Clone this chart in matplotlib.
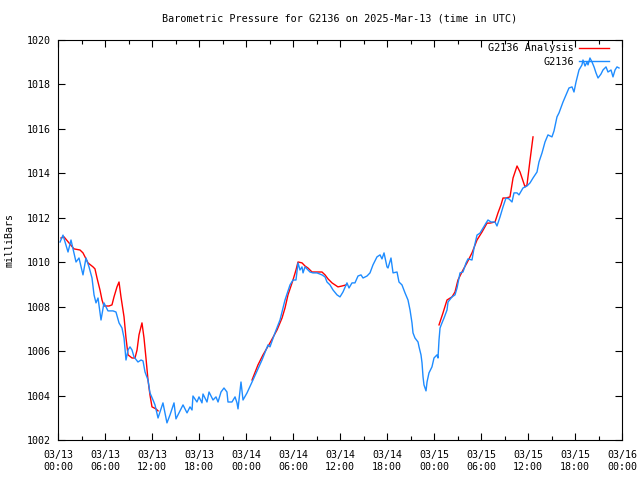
import numpy as np
import matplotlib
matplotlib.use("Agg")
import matplotlib.pyplot as plt

# hours after 2025-03-13 00:00 UTC, pressure in mb
obs_hours = [0.26, 0.64, 1.28, 1.66, 2.30, 2.68, 3.19, 3.57, 3.96, 4.34, 4.60, 4.85, 5.11, 5.49, 5.87,
             6.38, 7.02, 7.40, 7.79, 8.17, 8.43, 8.68, 8.94, 9.19, 9.45, 9.70, 10.21, 10.60, 10.85, 11.11,
             11.49, 11.74, 12.13, 12.38, 12.77, 13.40, 13.91, 14.30, 14.81, 15.06, 15.96, 16.47, 16.85,
             17.11, 17.23, 17.74, 18.00, 18.38, 18.51, 19.02, 19.28, 19.79, 20.17, 20.43, 20.81, 21.19,
             21.57, 21.70, 22.21, 22.60, 22.85, 22.98, 23.36, 23.62, 24.13, 24.89, 26.04, 26.81, 27.06,
             27.70, 28.34, 28.98, 29.62, 30.00, 30.38, 30.64, 30.89, 31.15, 31.28, 31.53, 31.91, 32.17,
             32.55, 33.06, 33.70, 34.09, 34.34, 34.72, 35.11, 35.62, 36.00, 36.38, 36.89, 37.15, 37.53,
             37.91, 38.30, 38.68, 38.94, 39.45, 39.83, 40.21, 40.72, 41.11, 41.36, 41.62, 42.00, 42.13,
             42.51, 42.77, 43.28, 43.53, 43.91, 44.30, 44.68, 44.94, 45.19, 45.32, 45.57, 45.96, 46.09,
             46.34, 46.47, 46.60, 46.72, 46.98, 47.11, 47.36, 47.74, 48.00, 48.38, 48.51, 48.64, 48.77,
             49.02, 49.28, 49.66, 49.79, 50.30, 50.68, 50.94, 51.32, 51.70, 52.09, 52.34, 52.85, 53.11,
             53.49, 53.87, 54.26, 54.64, 54.89, 55.28, 55.79, 56.04, 56.43, 56.81, 57.19, 57.57, 57.96,
             58.21, 58.60, 58.85, 59.36, 59.87, 60.26, 60.64, 61.15, 61.40, 61.79, 62.17, 62.55, 63.06,
             63.32, 63.70, 63.96, 64.47, 64.85, 65.23, 65.62, 65.87, 66.13, 66.26, 66.51, 66.89, 67.02,
             67.28, 67.53, 67.66, 67.91, 68.17, 68.43, 68.68, 68.94, 69.32, 69.57, 69.96, 70.21, 70.60,
             70.85, 71.11, 71.36, 71.62]
obs_mb = [1010.91, 1011.22, 1010.46, 1011.00, 1010.01, 1010.19, 1009.43, 1010.19, 1009.79, 1009.29,
          1008.53, 1008.17, 1008.39, 1007.40, 1008.17, 1007.81, 1007.81, 1007.76, 1007.27, 1007.04,
          1006.59, 1005.60, 1006.05, 1006.19, 1006.05, 1005.74, 1005.51, 1005.60, 1005.56, 1005.06,
          1004.70, 1004.12, 1003.80, 1003.58, 1002.99, 1003.67, 1002.77, 1003.13, 1003.67, 1002.95,
          1003.58, 1003.22, 1003.49, 1003.35, 1003.98, 1003.71, 1003.94, 1003.67, 1004.07, 1003.71,
          1004.16, 1003.80, 1003.94, 1003.71, 1004.16, 1004.34, 1004.16, 1003.71, 1003.71, 1003.94,
          1003.67, 1003.40, 1004.61, 1003.80, 1004.12, 1004.70, 1005.60, 1006.28, 1006.19, 1006.82,
          1007.40, 1008.30, 1008.98, 1009.20, 1009.20, 1009.97, 1009.65, 1009.79, 1009.52, 1009.79,
          1009.65, 1009.56, 1009.52, 1009.52, 1009.43, 1009.34, 1009.11, 1008.98, 1008.75, 1008.53,
          1008.44, 1008.66, 1009.07, 1008.84, 1009.07, 1009.07, 1009.38, 1009.43, 1009.29, 1009.38,
          1009.52, 1009.88, 1010.24, 1010.33, 1010.15, 1010.42, 1009.79, 1009.74, 1010.19, 1009.52,
          1009.56, 1009.11, 1008.98, 1008.62, 1008.30, 1007.85, 1007.27, 1006.82, 1006.59, 1006.41,
          1006.19, 1005.83, 1005.47, 1004.84, 1004.48, 1004.21, 1004.61, 1005.02, 1005.29, 1005.69,
          1005.83, 1005.69, 1006.50, 1007.04, 1007.27, 1007.49, 1007.85, 1008.21, 1008.44, 1008.53,
          1008.84, 1009.52, 1009.56, 1009.97, 1010.15, 1010.10, 1010.64, 1011.22, 1011.31, 1011.54,
          1011.76, 1011.90, 1011.81, 1011.81, 1011.63, 1012.04, 1012.49, 1012.89, 1012.85, 1012.71,
          1013.12, 1013.12, 1013.03, 1013.34, 1013.43, 1013.57, 1013.79, 1014.06, 1014.51, 1014.92,
          1015.41, 1015.73, 1015.64, 1015.91, 1016.54, 1016.72, 1017.21, 1017.53, 1017.84, 1017.89,
          1017.66, 1018.11, 1018.29, 1018.65, 1018.88, 1019.10, 1018.83, 1019.01, 1018.88, 1019.19,
          1019.01, 1018.79, 1018.52, 1018.29, 1018.47, 1018.65, 1018.79, 1018.56, 1018.65, 1018.34,
          1018.65, 1018.79, 1018.74]

# analysis, nan = no analysis
ana_hours = [0.38, 0.77, 1.40, 2.04, 2.81, 3.19, 3.45, 3.83, 4.47, 4.72, 4.98, 5.36, 5.62, 5.87, 6.51,
             6.89, 7.15, 7.53, 7.79, 8.04, 8.43, 8.68, 8.94, 9.45, 9.83, 10.09, 10.34, 10.72, 10.98,
             11.23, 11.49, 11.74, 12.00, 12.51, 12.77, 18.0,
             24.77, 25.53, 26.17, 27.06, 27.96, 28.60, 28.98, 29.36, 30.00, 30.38, 30.64, 31.15, 31.53,
             31.91, 32.43, 33.19, 33.70, 34.09, 34.47, 34.98, 35.36, 35.74, 36.26, 36.77, 42.0,
             48.64, 49.15, 49.66, 50.30, 50.68, 51.06, 51.70, 52.21, 52.85, 53.49, 54.13, 54.77, 55.15,
             55.79, 56.17, 56.55, 56.81, 57.19, 57.70, 58.09, 58.60, 58.98, 59.62, 59.87, 60.26, 60.64]
ana_mb = [1011.09, 1011.14, 1010.87, 1010.60, 1010.55, 1010.42, 1010.24, 1009.97, 1009.79, 1009.70,
          1009.29, 1008.75, 1008.30, 1008.03, 1008.03, 1008.08, 1008.44, 1008.89, 1009.11, 1008.44,
          1007.54, 1006.59, 1005.83, 1005.69, 1005.69, 1006.05, 1006.73, 1007.27, 1006.59, 1005.69,
          1004.70, 1004.03, 1003.49, 1003.40, 1003.31, np.nan,
          1004.70, 1005.38, 1005.83, 1006.37, 1006.95, 1007.49, 1007.94, 1008.53, 1009.20, 1009.65,
          1010.01, 1009.97, 1009.83, 1009.74, 1009.56, 1009.56, 1009.56, 1009.43, 1009.25, 1009.07,
          1008.98, 1008.89, 1008.93, 1008.98, np.nan,
          1007.18, 1007.72, 1008.30, 1008.44, 1008.66, 1009.20, 1009.65, 1009.97, 1010.42, 1011.00,
          1011.36, 1011.76, 1011.76, 1011.81, 1012.22, 1012.58, 1012.89, 1012.89, 1012.94, 1013.79,
          1014.33, 1014.06, 1013.39, 1013.48, 1014.60, 1015.64]

tick_hours = list(range(0, 73, 6))
tick_labels = ["03/13\n00:00", "03/13\n06:00", "03/13\n12:00", "03/13\n18:00",
               "03/14\n00:00", "03/14\n06:00", "03/14\n12:00", "03/14\n18:00",
               "03/15\n00:00", "03/15\n06:00", "03/15\n12:00", "03/15\n18:00",
               "03/16\n00:00"]

plt.rcParams['font.family'] = ['DejaVu Sans Mono']
plt.rcParams['font.size'] = 7.2

fig = plt.figure(figsize=(6.4, 4.8), dpi=100)
ax = fig.add_axes([58 / 640, 40 / 480, 564 / 640, 400 / 480])

ax.plot(ana_hours, ana_mb, color="#ff0000", lw=1.0, label="G2136 Analysis")
ax.plot(obs_hours, obs_mb, color="#1e8cff", lw=1.0, label="G2136")

ax.set_xlim(0, 72)
ax.set_ylim(1002, 1020)
ax.set_xticks(tick_hours)
ax.set_xticklabels(tick_labels, linespacing=1.25)
ax.set_xticks(range(3, 72, 6), minor=True)
ax.set_yticks(range(1002, 1021, 2))
ax.tick_params(which="both", direction="in", top=True, right=True, width=0.8)
ax.tick_params(which="major", length=5)
ax.tick_params(axis="x", which="major", pad=7)
ax.tick_params(axis="y", which="major", pad=5)
ax.tick_params(which="minor", length=3)
for s in ax.spines.values():
    s.set_linewidth(0.8)

ax.set_title("Barometric Pressure for G2136 on 2025-Mar-13 (time in UTC)", fontsize=7.3, pad=13)
ax.set_ylabel("milliBars", labelpad=9)

ax.legend(loc="upper right", bbox_to_anchor=(0.98, 0.997), frameon=False, markerfirst=False,
          handlelength=2.9, handletextpad=0.5, labelspacing=0.35, borderaxespad=0.0,
          borderpad=0.2, fontsize=7.3)

fig.savefig("out.png", dpi=100)
